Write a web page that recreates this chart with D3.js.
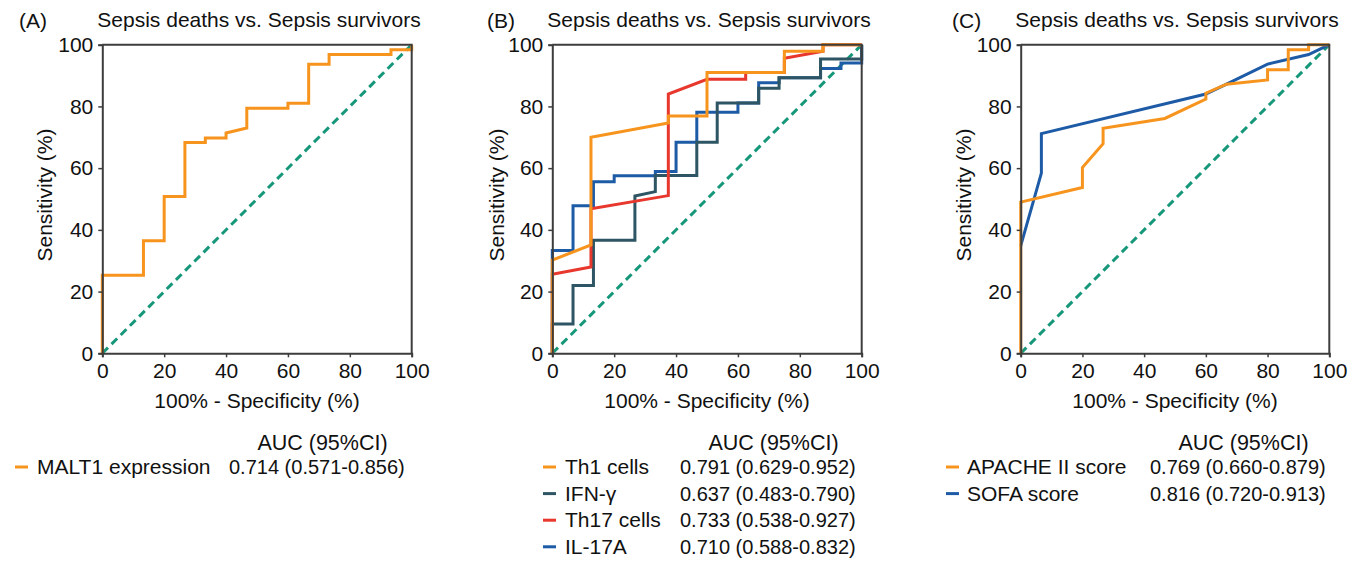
<!DOCTYPE html>
<html>
<head>
<meta charset="utf-8">
<script src="https://cdn.jsdelivr.net/npm/d3@7"></script>
<style>
  html, body { margin: 0; padding: 0; background: #fff; }
  svg { display: block; font-family: "Liberation Sans", Arial, sans-serif; }
</style>
</head>
<body>
<svg id="chart" width="1362" height="562"></svg>
<script>
// ---------- data ----------
const panelLetters = ["(A)", "(B)", "(C)"];
const panelTitle = "Sepsis deaths vs. Sepsis survivors";
const xAxisTitle = "100% - Specificity (%)";
const yAxisTitle = "Sensitivity (%)";
const tickValues = [0, 20, 40, 60, 80, 100];
const legendHeader = "AUC (95%CI)";

// Panel A
const maltFpr = [0, 0, 13.3, 13.3, 20, 20, 26.7, 26.7, 33.3, 33.3, 40, 40, 46.7, 46.7, 60, 60, 66.7, 66.7, 73.3, 73.3, 93.3, 93.3, 100, 100];
const maltTpr = [0, 25.3, 25.3, 36.5, 36.5, 50.8, 50.8, 68.3, 68.3, 69.8, 69.8, 71.4, 73.0, 79.4, 79.4, 81.0, 81.0, 93.7, 93.7, 96.8, 96.8, 98.4, 98.4, 100];

// Panel B
const th1Fpr = [0, 0, 12.5, 12.5, 37.5, 37.5, 50, 50, 75, 75, 87.5, 87.5, 100];
const th1Tpr = [0, 30.2, 35.1, 70.0, 74.6, 76.9, 76.9, 91.0, 91.0, 97.9, 97.9, 100, 100];
const ifnFpr = [0, 0, 6.7, 6.7, 13.3, 13.3, 26.7, 26.7, 33.3, 33.3, 46.7, 46.7, 53.3, 53.3, 66.7, 66.7, 73.3, 73.3, 86.7, 86.7, 100, 100];
const ifnTpr = [0, 9.5, 9.5, 22.0, 22.0, 36.6, 36.6, 51.0, 52.4, 57.6, 57.6, 68.4, 68.4, 81.1, 81.1, 85.9, 85.9, 89.3, 89.3, 95.4, 95.4, 100];
const th17Fpr = [0, 0, 12.5, 12.5, 37.5, 37.5, 50, 62.5, 62.5, 75, 75, 87.5, 87.5, 100];
const th17Tpr = [0, 25.6, 28.0, 46.8, 51.1, 84.0, 88.8, 88.8, 91.0, 91.0, 95.6, 97.9, 100, 100];
const il17Fpr = [0, 0, 6.7, 6.7, 13.3, 13.3, 20, 20, 33.3, 33.3, 40, 40, 46.7, 46.7, 60, 60, 66.7, 66.7, 73.3, 73.3, 86.7, 86.7, 93.3, 93.3, 100, 100];
const il17Tpr = [0, 33.3, 33.3, 47.8, 47.8, 55.6, 55.6, 57.5, 57.5, 58.9, 58.9, 68.4, 68.4, 78.1, 78.1, 81.1, 81.1, 87.7, 87.7, 89.3, 89.3, 92.3, 92.3, 94.1, 94.1, 100];

// Panel C
const apacheFpr = [0, 0, 20, 20, 26.7, 26.7, 46.7, 60, 60, 66.7, 80, 80, 86.7, 86.7, 93.3, 93.3, 100];
const apacheTpr = [0, 49.0, 53.7, 60.2, 67.9, 72.9, 76.1, 82.4, 84.3, 87.2, 88.6, 91.9, 91.9, 98.4, 98.4, 100, 100];
const sofaFpr = [0, 6.7, 6.7, 60, 66.7, 80, 93.3, 100];
const sofaTpr = [34.8, 58.4, 71.2, 84.0, 87.2, 93.7, 96.8, 100];

// legend texts
const legendNamesA = ["MALT1 expression"];
const legendAucA = ["0.714 (0.571-0.856)"];
const legendNamesB = ["Th1 cells", "IFN-γ", "Th17 cells", "IL-17A"];
const legendAucB = ["0.791 (0.629-0.952)", "0.637 (0.483-0.790)", "0.733 (0.538-0.927)", "0.710 (0.588-0.832)"];
const legendNamesC = ["APACHE II score", "SOFA score"];
const legendAucC = ["0.769 (0.660-0.879)", "0.816 (0.720-0.913)"];

// ---------- styling ----------
const COL = { orange: "#F7941D", slate: "#2E5563", red: "#E8372C", blue: "#1D5BA6", green: "#17977A", axis: "#3d3d3d" };
const zip = (xs, ys) => xs.map((x, i) => [x, ys[i]]);

const panels = [
  { letter: panelLetters[0], x0: 102.3, x1: 411.7, lx: 19, ylabX: 45,
    series: [{ pts: zip(maltFpr, maltTpr), color: COL.orange }],
    legend: { names: legendNamesA, aucs: legendAucA, colors: [COL.orange], mx: 15, tx: 37, vx: 229 } },
  { letter: panelLetters[1], x0: 552.3, x1: 861.7, lx: 487, ylabX: 497,
    series: [
      { pts: zip(il17Fpr, il17Tpr), color: COL.blue },
      { pts: zip(ifnFpr, ifnTpr), color: COL.slate },
      { pts: zip(th17Fpr, th17Tpr), color: COL.red },
      { pts: zip(th1Fpr, th1Tpr), color: COL.orange }],
    legend: { names: legendNamesB, aucs: legendAucB, colors: [COL.orange, COL.slate, COL.red, COL.blue], mx: 543, tx: 565, vx: 680 } },
  { letter: panelLetters[2], x0: 1020.7, x1: 1329.3, lx: 952, ylabX: 964,
    series: [
      { pts: zip(sofaFpr, sofaTpr), color: COL.blue },
      { pts: zip(apacheFpr, apacheTpr), color: COL.orange }],
    legend: { names: legendNamesC, aucs: legendAucC, colors: [COL.orange, COL.blue], mx: 946, tx: 967, vx: 1150 } }
];

const yTop = 44.7, yBot = 353.3;
const svg = d3.select("#chart");

panels.forEach(p => {
  const x = d3.scaleLinear().domain([0, 100]).range([p.x0, p.x1]);
  const y = d3.scaleLinear().domain([0, 100]).range([yBot, yTop]);
  const g = svg.append("g");

  // panel letter + title
  g.append("text").attr("x", p.lx).attr("y", 28).attr("font-size", 21).attr("fill", "#111").text(p.letter);
  g.append("text").attr("x", (p.x0 + p.x1) / 2 + 2).attr("y", 27).attr("text-anchor", "middle")
    .attr("font-size", 21).attr("fill", "#111").text(panelTitle);

  // diagonal reference
  g.append("line").attr("x1", x(0)).attr("y1", y(0)).attr("x2", x(100)).attr("y2", y(100))
    .attr("stroke", COL.green).attr("stroke-width", 3).attr("stroke-dasharray", "8,5");

  // curves
  const line = d3.line().x(d => x(d[0])).y(d => y(d[1]));
  p.series.forEach(s => {
    g.append("path").attr("d", line(s.pts)).attr("fill", "none")
      .attr("stroke", s.color).attr("stroke-width", 3).attr("stroke-linejoin", "miter");
  });

  // frame (top & right)
  g.append("path").attr("d", `M${x(0)},${y(100)}H${x(100)}V${y(0)}`)
    .attr("fill", "none").attr("stroke", COL.axis).attr("stroke-width", 2);

  // axes
  const xa = g.append("g").attr("transform", `translate(0,${yBot})`)
    .call(d3.axisBottom(x).tickValues(tickValues).tickSize(4).tickPadding(6));
  const ya = g.append("g").attr("transform", `translate(${p.x0},0)`)
    .call(d3.axisLeft(y).tickValues(tickValues).tickSize(4).tickPadding(5));
  [xa, ya].forEach(a => {
    a.select(".domain").attr("stroke", COL.axis).attr("stroke-width", 2);
    a.selectAll(".tick line").attr("stroke", COL.axis).attr("stroke-width", 1.5);
    a.selectAll(".tick text").attr("font-size", 21).attr("fill", "#111")
      .attr("font-family", "Liberation Sans, Arial, sans-serif");
  });

  // axis titles
  g.append("text").attr("x", (p.x0 + p.x1) / 2).attr("y", 408).attr("text-anchor", "middle")
    .attr("font-size", 21).attr("fill", "#111").text(xAxisTitle);
  g.append("text").attr("transform", `translate(${p.ylabX},${(yTop + yBot) / 2 - 4}) rotate(-90)`)
    .attr("text-anchor", "middle").attr("dy", "0.35em").attr("font-size", 21).attr("fill", "#111").text(yAxisTitle);

  // legend
  const L = p.legend;
  const vw = 187;
  g.append("text").attr("x", L.vx + vw / 2).attr("y", 450).attr("text-anchor", "middle")
    .attr("font-size", 21.5).attr("fill", "#111").text(legendHeader);
  L.names.forEach((nm, i) => {
    const base = 474 + i * 26.6;
    g.append("line").attr("x1", L.mx).attr("x2", L.mx + 13).attr("y1", base - 7).attr("y2", base - 7)
      .attr("stroke", L.colors[i]).attr("stroke-width", 3);
    g.append("text").attr("x", L.tx).attr("y", base).attr("font-size", 21).attr("fill", "#111").text(nm);
    g.append("text").attr("x", L.vx).attr("y", base).attr("font-size", 20).attr("fill", "#111").text(L.aucs[i]);
  });
});
</script>
</body>
</html>
